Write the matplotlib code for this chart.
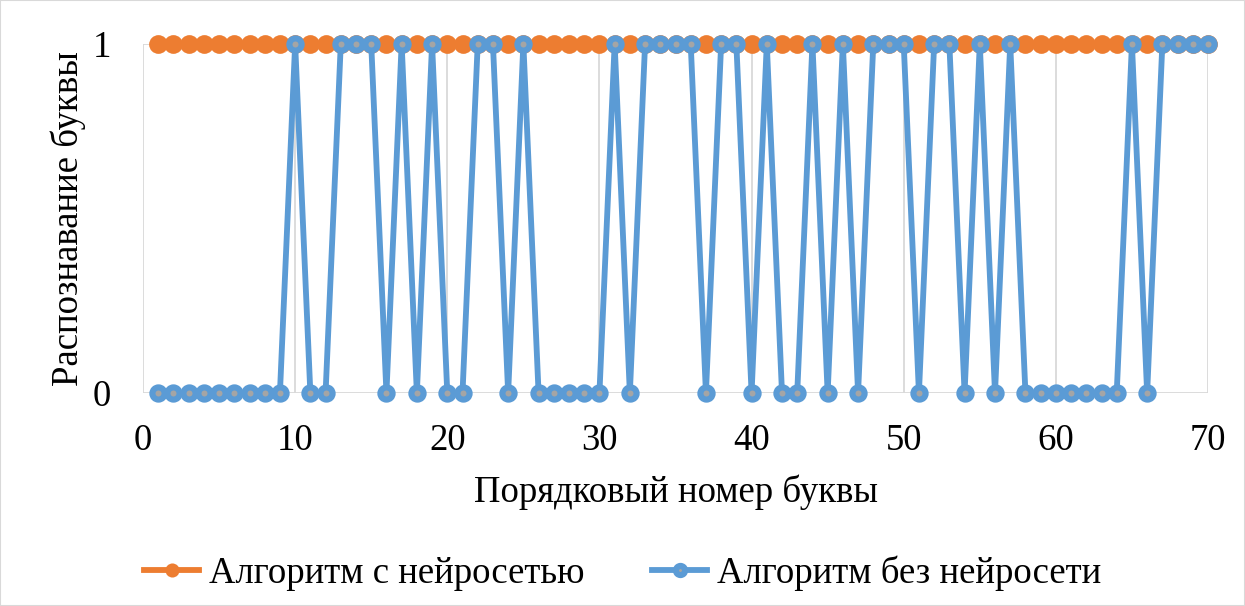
import numpy as np
import matplotlib.pyplot as plt
from matplotlib.patches import Rectangle

plt.rcParams['font.family'] = ['Liberation Serif', 'DejaVu Serif']

# номера букв и результаты распознавания (1 - распознана, 0 - нет)
letters = np.arange(1, 71)
with_nn = [1] * 70
without_nn = [0, 0, 0, 0, 0, 0, 0, 0, 0, 1,
              0, 0, 1, 1, 1, 0, 1, 0, 1, 0,
              0, 1, 1, 0, 1, 0, 0, 0, 0, 0,
              1, 0, 1, 1, 1, 1, 0, 1, 1, 0,
              1, 0, 0, 1, 0, 1, 0, 1, 1, 1,
              0, 1, 1, 0, 1, 0, 1, 0, 0, 0,
              0, 0, 0, 0, 1, 0, 1, 1, 1, 1]

label_nn = 'Алгоритм с нейросетью'
label_plain = 'Алгоритм без нейросети'

orange = '#ED7D31'
blue = '#5B9BD5'
grey = '#A5A5A5'
grid_c = '#D9D9D9'
fs = 26.5

fig = plt.figure(figsize=(12.45, 6.06), dpi=100)
ax = fig.add_axes([143 / 1245, 1 - 393 / 606, 1065 / 1245, 349 / 606])

ax.plot(letters, with_nn, color=orange, lw=4.2, marker='o', ms=13.5,
        mfc=orange, mec=orange, mew=0, clip_on=False, zorder=3, label=label_nn)
ax.plot(letters, without_nn, color=blue, lw=4.2, marker='o', ms=8.8,
        mfc=grey, mec=blue, mew=4.4, clip_on=False, zorder=4, label=label_plain)

ax.set_xlim(0, 70)
ax.set_ylim(0, 1)
ax.set_xticks(range(0, 71, 10))
ax.set_yticks([0, 1])
ax.grid(True, color=grid_c, lw=1.3)
ax.set_axisbelow(True)
for s in ax.spines.values():
    s.set_visible(False)
ax.tick_params(length=0, labelsize=fs)
ax.tick_params(axis='x', pad=22)
ax.tick_params(axis='y', pad=23)

ax.set_xlabel('Порядковый номер буквы', fontsize=fs, labelpad=12)
ax.set_ylabel('Распознавание буквы', fontsize=fs, labelpad=5)

fig.legend(loc='center', bbox_to_anchor=(0.5, 1 - 573 / 606), ncol=2,
           frameon=False, fontsize=fs, handlelength=1.5, columnspacing=1.85,
           handletextpad=0.25, markerscale=0.75)

fig.patches.append(Rectangle((0, 0), 1, 1, transform=fig.transFigure,
                             fill=False, edgecolor=grid_c, lw=1.5))

fig.savefig('out.png', dpi=100)
